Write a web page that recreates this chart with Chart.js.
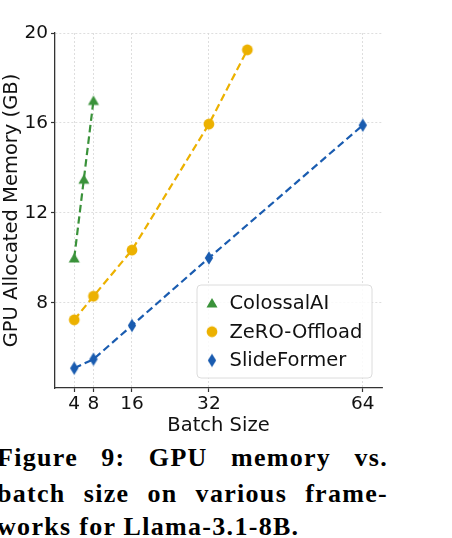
<!DOCTYPE html>
<html>
<head>
<meta charset="utf-8">
<script src="https://cdn.jsdelivr.net/npm/chart.js@4.4.1/dist/chart.umd.min.js"></script>
<style>
  html, body { margin: 0; padding: 0; background: #fff; width: 452px; height: 538px; overflow: hidden; }
  #chart { position: absolute; left: 0; top: 0; }
  .cap { position: absolute; left: -3px; width: 391px; font: bold 26px "Liberation Serif", serif;
         color: #000; line-height: 30px; white-space: nowrap; letter-spacing: 1.3px; }
  .just { text-align: justify; text-align-last: justify; white-space: normal; }
</style>
</head>
<body>
<canvas id="chart" width="452" height="440"></canvas>
<div class="cap just" style="top:443px">Figure 9: GPU memory vs.</div>
<div class="cap just" style="top:479px">batch size on various frame-</div>
<div class="cap" style="top:512px">works for Llama-3.1-8B.</div>
<script>
// data
const colossalBatch = [4, 6, 8];
const colossalMem = [10.0, 13.5, 17.0];
const zeroBatch = [4, 8, 16, 32, 40];
const zeroMem = [7.25, 8.3, 10.35, 15.95, 19.25];
const slideBatch = [4, 8, 16, 32, 64];
const slideMem = [5.1, 5.5, 7.0, 10.0, 15.9];
const xTicks = [4, 8, 16, 32, 64];
const yTicks = [8, 12, 16, 20];
const seriesNames = ['ColossalAI', 'ZeRO-Offload', 'SlideFormer'];

const GREEN = '#3a923a', GOLD = '#ecb100', BLUE = '#1a5cb0';
const FONT = 'DejaVu Sans';

// small canvases used as marker images
function marker(kind, color) {
  const c = document.createElement('canvas');
  c.width = 16; c.height = 16;
  const g = c.getContext('2d');
  g.fillStyle = color;
  g.beginPath();
  if (kind === 'tri') {
    g.moveTo(8, 3); g.lineTo(13.5, 12.5); g.lineTo(2.5, 12.5);
  } else if (kind === 'circle') {
    g.arc(8, 8, 5.4, 0, Math.PI * 2);
  } else {
    g.moveTo(8, 1.3); g.lineTo(12.2, 8); g.lineTo(8, 14.7); g.lineTo(3.8, 8);
  }
  g.closePath();
  g.fill();
  return c;
}
const markers = [marker('tri', GREEN), marker('circle', GOLD), marker('diamond', BLUE)];
const colors = [GREEN, GOLD, BLUE];

function pts(xs, ys) { return xs.map((x, i) => ({ x: x, y: ys[i] })); }

const inlineLegend = {
  id: 'inlineLegend',
  afterDraw(chart) {
    const ctx = chart.ctx, a = chart.chartArea;
    const w = 175, h = 93;
    const x0 = a.right - 10 - w, y0 = a.bottom - 10 - h;
    ctx.save();
    ctx.beginPath();
    ctx.roundRect(x0, y0, w, h, 4);
    ctx.fillStyle = 'rgba(255,255,255,0.85)';
    ctx.fill();
    ctx.strokeStyle = '#dcdcdc';
    ctx.lineWidth = 1;
    ctx.stroke();
    ctx.font = '19.5px "' + FONT + '"';
    ctx.fillStyle = '#111';
    ctx.textBaseline = 'middle';
    seriesNames.forEach((name, i) => {
      const cy = y0 + 18 + i * 28.7;
      ctx.drawImage(markers[i], x0 + 15 - 8, cy - 8);
      ctx.fillText(name, x0 + 32.5, cy + 1);
    });
    ctx.restore();
  }
};

const gridCommon = {
  color: '#d6d6d6',
  lineWidth: 0.8,
  tickLength: 4,
  tickColor: '#333',
  tickWidth: 1.2,
  tickBorderDash: []
};
const borderCommon = { color: '#333', width: 1.3, dash: [2, 2] };

new Chart(document.getElementById('chart'), {
  type: 'line',
  data: {
    datasets: [
      { label: seriesNames[0], data: pts(colossalBatch, colossalMem), pointStyle: markers[0] },
      { label: seriesNames[1], data: pts(zeroBatch, zeroMem), pointStyle: markers[1] },
      { label: seriesNames[2], data: pts(slideBatch, slideMem), pointStyle: markers[2] }
    ].map((d, i) => Object.assign(d, {
      borderColor: colors[i],
      backgroundColor: colors[i],
      borderWidth: 2.2,
      borderDash: [7.5, 4],
      tension: 0,
      fill: false
    }))
  },
  options: {
    responsive: false,
    animation: false,
    devicePixelRatio: 1,
    layout: { padding: { left: 0, top: 33, right: 70, bottom: 0 } },
    plugins: { legend: { display: false }, tooltip: { enabled: false } },
    scales: {
      x: {
        type: 'linear', min: 0, max: 68,
        afterBuildTicks: s => { s.ticks = xTicks.map(v => ({ value: v })); },
        afterFit: s => { s.height = 52; },
        grid: gridCommon,
        border: borderCommon,
        ticks: { color: '#111', font: { family: FONT, size: 18.5 }, padding: 1, maxRotation: 0, autoSkip: false },
        title: { display: true, text: 'Batch Size', color: '#111', font: { family: FONT, size: 19.5 }, padding: { top: 0, bottom: 2 } }
      },
      y: {
        type: 'linear', min: 4.22, max: 20,
        afterBuildTicks: s => { s.ticks = yTicks.map(v => ({ value: v })); },
        afterFit: s => { s.width = 55; },
        grid: gridCommon,
        border: borderCommon,
        ticks: { color: '#111', font: { family: FONT, size: 18.5 }, padding: 3, autoSkip: false },
        title: { display: true, text: 'GPU Allocated Memory (GB)', color: '#111', font: { family: FONT, size: 19.5 }, padding: { top: 0, bottom: 0 } }
      }
    },
    elements: { point: { radius: 5, hoverRadius: 5 } }
  },
  plugins: [inlineLegend]
});
</script>
</body>
</html>
